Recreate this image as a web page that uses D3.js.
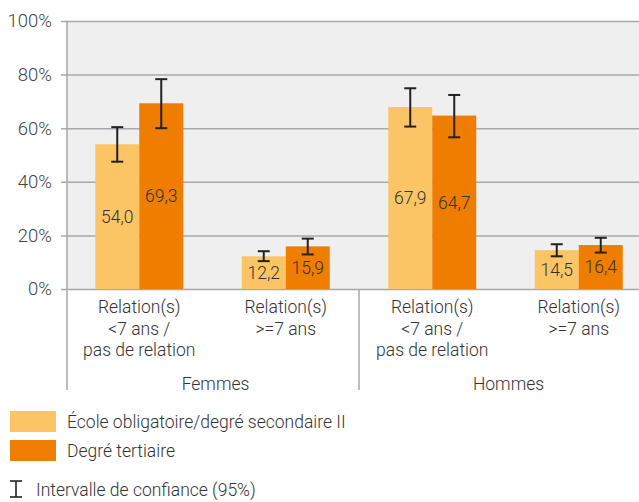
<!DOCTYPE html>
<html><head><meta charset="utf-8">
<script src="https://cdn.jsdelivr.net/npm/d3@7"></script>
<style>
body{margin:0;background:#fff;}
text{font-family:Roboto,"Noto Sans",sans-serif;font-weight:300;}
</style></head>
<body><svg id="c" width="639" height="502"></svg>
<script>
const groups = ["Femmes","Hommes"];
const categories = ["F1","F2","H1","H2"];
const categoryLabels = [["Relation(s)","<7 ans /","pas de relation"],["Relation(s)",">=7 ans"],["Relation(s)","<7 ans /","pas de relation"],["Relation(s)",">=7 ans"]];
const categoryGroup = ["Femmes","Femmes","Hommes","Hommes"];
const series = ["École obligatoire/degré secondaire II","Degré tertiaire"];
const secondaire = [54.0, 12.2, 67.9, 14.5];
const secondaireLow = [47.5, 10.4, 60.6, 12.2];
const secondaireHigh = [60.4, 14.1, 74.9, 16.7];
const tertiaire = [69.3, 15.9, 64.7, 16.4];
const tertiaireLow = [60.0, 12.9, 56.6, 13.6];
const tertiaireHigh = [78.3, 18.8, 72.4, 19.1];
const yTicks = [0,20,40,60,80,100];
const ciLabel = "Intervalle de confiance (95%)";
const colors = ["#FBC566","#EF7D00"];

(function(){
const svg = d3.select("#c");
const pl = 66, pr = 652, pt = 21, pb = 289;
const x = d3.scaleBand().domain(categories).range([pl,pr]).paddingInner(0).paddingOuter(0);
const xs = d3.scaleBand().domain([0,1]).range([0,88]);
const y = d3.scaleLinear().domain([0,100]).range([pb,pt]);

svg.append("rect").attr("x",pl).attr("y",pt).attr("width",pr-pl).attr("height",pb-pt).attr("fill","#efefef");

const yAxis = d3.axisLeft(y).tickValues(yTicks).tickFormat(d=>d+"%").tickSize(-(pr-pl)).tickPadding(14);
const ga = svg.append("g").attr("transform",`translate(${pl},0)`).call(yAxis);
ga.select(".domain").remove();
ga.selectAll(".tick line").attr("stroke","#a8a8a8").attr("stroke-width",1.5).attr("x1",-5);
ga.selectAll(".tick text").attr("font-size",18.5).attr("fill","#444").attr("font-family","Roboto").attr("font-weight",300);

svg.append("line").attr("x1",pl+1).attr("x2",pl+1).attr("y1",pt).attr("y2",390).attr("stroke","#a8a8a8").attr("stroke-width",1.5);
svg.append("line").attr("x1",x("H1")).attr("x2",x("H1")).attr("y1",pb).attr("y2",390).attr("stroke","#a8a8a8").attr("stroke-width",1.5);

const data = categories.map((c,i)=>[
  {c,s:0,v:secondaire[i],lo:secondaireLow[i],hi:secondaireHigh[i]},
  {c,s:1,v:tertiaire[i],lo:tertiaireLow[i],hi:tertiaireHigh[i]}
]).flat();

const bx = d => x(d.c) + (x.bandwidth()-88)/2 + xs(d.s);
svg.selectAll("rect.bar").data(data).join("rect").attr("class","bar")
  .attr("x",bx).attr("width",xs.bandwidth()).attr("y",d=>y(d.v)).attr("height",d=>y(0)-y(d.v))
  .attr("fill",d=>colors[d.s]);

const eb = svg.selectAll("g.eb").data(data).join("g").attr("class","eb")
  .attr("stroke","#222").attr("stroke-width",2);
eb.append("line").attr("x1",d=>bx(d)+22).attr("x2",d=>bx(d)+22).attr("y1",d=>y(d.lo)).attr("y2",d=>y(d.hi));
eb.append("line").attr("x1",d=>bx(d)+16).attr("x2",d=>bx(d)+28).attr("y1",d=>y(d.lo)).attr("y2",d=>y(d.lo));
eb.append("line").attr("x1",d=>bx(d)+16).attr("x2",d=>bx(d)+28).attr("y1",d=>y(d.hi)).attr("y2",d=>y(d.hi));

svg.selectAll("text.val").data(data).join("text").attr("class","val")
  .attr("x",d=>bx(d)+22).attr("y",d=>(y(d.v)+y(0))/2).attr("dy","0.36em")
  .attr("text-anchor","middle").attr("font-size",17.5).attr("fill","#333")
  .text(d=>d3.format(".1f")(d.v).replace(".",","));

categories.forEach((c,i)=>{
  const t = svg.append("text").attr("text-anchor","middle").attr("font-size",17.5).attr("fill","#333");
  categoryLabels[i].forEach((l,j)=>{
    t.append("tspan").attr("x",x(c)+x.bandwidth()/2).attr("y",313+j*21.5).text(l);
  });
});
groups.forEach(g=>{
  const cs = categories.filter((c,i)=>categoryGroup[i]===g);
  const cx = (x(cs[0]) + x(cs[cs.length-1]) + x.bandwidth())/2 + 3;
  svg.append("text").attr("x",cx).attr("y",390).attr("text-anchor","middle").attr("font-size",17.5).attr("fill","#333").text(g);
});

series.forEach((s,i)=>{
  svg.append("rect").attr("x",10).attr("y",411+i*29).attr("width",46).attr("height",21).attr("fill",colors[i]);
  svg.append("text").attr("x",67).attr("y",421.5+i*29).attr("dy","0.36em").attr("font-size",17.5).attr("fill","#333").text(s);
});
const ci = svg.append("g").attr("stroke","#222").attr("stroke-width",1.6);
ci.append("line").attr("x1",16).attr("x2",16).attr("y1",481).attr("y2",497);
ci.append("line").attr("x1",10).attr("x2",22).attr("y1",481).attr("y2",481);
ci.append("line").attr("x1",10).attr("x2",22).attr("y1",497).attr("y2",497);
svg.append("text").attr("x",36).attr("y",490).attr("dy","0.36em").attr("font-size",17.5).attr("fill","#333").text(ciLabel);
})();
</script></body></html>
